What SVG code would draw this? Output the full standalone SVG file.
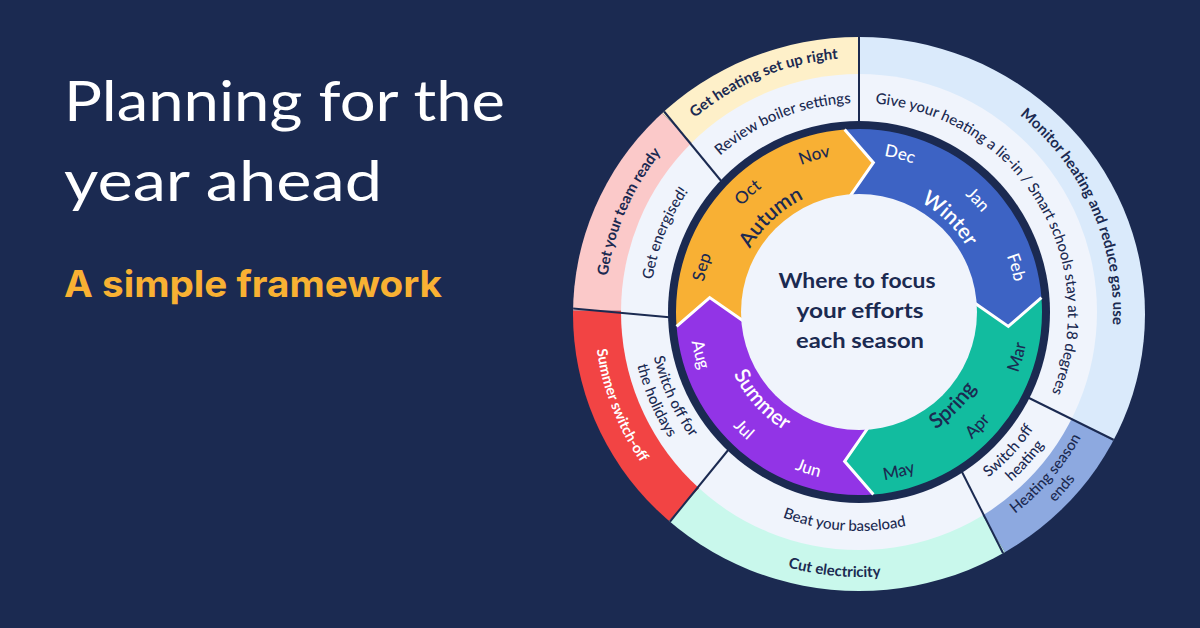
<svg xmlns="http://www.w3.org/2000/svg" xmlns:xlink="http://www.w3.org/1999/xlink" width="1200" height="628" viewBox="0 0 1200 628">
<style>
.dt{font-family:Lato,"Open Sans","DejaVu Sans",sans-serif}
.navy{fill:#1B2A51}
.wh{fill:#ffffff}
.sn{font-size:21px;font-weight:600}
.mo{font-size:17px;font-weight:500}
.mid{font-size:15px;font-weight:500;fill:#1B2A51}
.out{font-size:15px;font-weight:700;fill:#1B2A51}
.div{stroke:#1B2A51;stroke-width:2;fill:none}
.chev{stroke:#ffffff;stroke-width:3;fill:none;stroke-linejoin:miter}
</style>
<defs>
<clipPath id="outerClip"><ellipse cx="859" cy="314" rx="286" ry="277"/></clipPath>
<path id="cw126" d="M859,438 A126 126 0 1 1 859,186 A126 126 0 1 1 859,438"/>
<path id="cw158" d="M859,470 A158 158 0 1 1 859,154 A158 158 0 1 1 859,470"/>
<path id="cw209" d="M859,521 A209 209 0 1 1 859,103 A209 209 0 1 1 859,521"/>
<path id="cw254" d="M859,566 A254 254 0 1 1 859,58 A254 254 0 1 1 859,566"/>
<path id="cc140" d="M859,172 A140 140 0 1 0 859,452 A140 140 0 1 0 859,172"/>
<path id="cc170" d="M859,142 A170 170 0 1 0 859,482 A170 170 0 1 0 859,142"/>
<path id="cc210" d="M859,102 A210 210 0 1 0 859,522 A210 210 0 1 0 859,102"/>
<path id="cc219" d="M859,93 A219 219 0 1 0 859,531 A219 219 0 1 0 859,93"/>
<path id="cc228" d="M859,84 A228 228 0 1 0 859,540 A228 228 0 1 0 859,84"/>
<path id="cc255" d="M859,57 A255 255 0 1 0 859,567 A255 255 0 1 0 859,57"/>
<path id="cc265" d="M859,47 A265 265 0 1 0 859,577 A265 265 0 1 0 859,47"/>
<path id="cc273" d="M859,39 A273 273 0 1 0 859,585 A273 273 0 1 0 859,39"/>
</defs>
<rect x="0" y="0" width="1200" height="628" fill="#1B2A51"/>

<g id="title">
<text class="dt" x="64" y="121" font-size="56" font-weight="400" fill="#ffffff" textLength="441" lengthAdjust="spacingAndGlyphs">Planning for the</text>
<text class="dt" x="64" y="201" font-size="56" font-weight="400" fill="#ffffff" textLength="318" lengthAdjust="spacingAndGlyphs">year ahead</text>
</g>
<g id="subtitle">
<text x="64" y="297" font-family="Inter,Roboto,sans-serif" font-size="37" font-weight="700" fill="#F8B133" textLength="378" lengthAdjust="spacingAndGlyphs">A simple framework</text>
</g>

<g id="outer-bands" clip-path="url(#outerClip)">
<path id="band-monitor" d="M859,312 L859,-18 A330 330 0 0 1 1153.55,460.79 Z" fill="#DAEAFB"/>
<path id="band-heating-ends" d="M859,312 L1153.55,460.79 A330 330 0 0 1 1030.44,593.97 Z" fill="#8DA9E0"/>
<path id="band-cut" d="M859,312 L1030.44,593.97 A330 330 0 0 1 636.91,556.08 Z" fill="#C9F8EC"/>
<path id="band-summer" d="M859,312 L636.91,556.08 A330 330 0 0 1 529,310.27 Z" fill="#F24444"/>
<path id="band-team" d="M859,312 L529,310.27 A330 330 0 0 1 626.89,77.43 Z" fill="#FBC9C9"/>
<path id="band-heating-setup" d="M859,312 L626.89,77.43 A330 330 0 0 1 859,-18 Z" fill="#FEF0C9"/>
</g>
<circle id="middle-band" cx="859" cy="312" r="238" fill="#F0F4FC"/>

<g id="connectors" clip-path="url(#outerClip)">
<line class="div" x1="859" y1="30" x2="859" y2="125"/>
<line class="div" x1="662" y1="109" x2="722" y2="182"/>
<line class="div" x1="568" y1="308" x2="672" y2="317.5"/>
<line class="div" x1="668" y1="524" x2="729" y2="449"/>
<line class="div" x1="1004" y1="555" x2="961" y2="470"/>
<line class="div" x1="1116" y1="441" x2="1027" y2="397"/>
</g>

<circle id="dark-ring" cx="859" cy="312" r="191" fill="#1B2A51"/>

<g id="season-winter">
<path d="M844.64,129.56 A183 183 0 0 1 1041.44,297.64 L1008.31,326.38 L974.64,302.9 A116 116 0 0 0 849.9,196.36 L873.38,162.69 Z" fill="#3D63C4"/>
</g>
<g id="season-spring">
<path d="M1041.44,297.64 A183 183 0 0 1 873.36,494.44 L844.62,461.31 L868.1,427.64 A116 116 0 0 0 974.64,302.9 L1008.31,326.38 Z" fill="#12BC9F"/>
</g>
<g id="season-summer">
<path d="M873.36,494.44 A183 183 0 0 1 676.56,326.36 L709.69,297.62 L743.36,321.1 A116 116 0 0 0 868.1,427.64 L844.62,461.31 Z" fill="#9234E6"/>
</g>
<g id="season-autumn">
<path d="M676.56,326.36 A183 183 0 0 1 844.64,129.56 L873.38,162.69 L849.9,196.36 A116 116 0 0 0 743.36,321.1 L709.69,297.62 Z" fill="#F8B034"/>
</g>
<g id="season-edges">
<polyline class="chev" points="844.64,129.56 873.38,162.69 849.9,196.36"/>
<polyline class="chev" points="1041.44,297.64 1008.31,326.38 974.64,302.9"/>
<polyline class="chev" points="873.36,494.44 844.62,461.31 868.1,427.64"/>
<polyline class="chev" points="676.56,326.36 709.69,297.62 743.36,321.1"/>
</g>

<g id="center">
<circle cx="859" cy="312" r="118" fill="#F0F4FC"/>
<text class="dt navy" x="857" y="288" font-size="21" font-weight="700" text-anchor="middle" textLength="157" lengthAdjust="spacingAndGlyphs">Where to focus</text>
<text class="dt navy" x="860" y="318" font-size="21" font-weight="700" text-anchor="middle" textLength="127" lengthAdjust="spacingAndGlyphs">your efforts</text>
<text class="dt navy" x="860" y="348" font-size="21" font-weight="700" text-anchor="middle" textLength="128" lengthAdjust="spacingAndGlyphs">each season</text>
</g>

<g id="season-labels" class="dt" text-anchor="middle">
<text class="sn navy"><textPath href="#cw126" startOffset="301.28">Autumn</textPath></text>
<text class="mo navy"><textPath href="#cw158" startOffset="292.31">Sep</textPath></text>
<text class="mo navy"><textPath href="#cw158" startOffset="377.79">Oct</textPath></text>
<text class="mo navy"><textPath href="#cw158" startOffset="452.25">Nov</textPath></text>
<text class="sn wh"><textPath href="#cw126" startOffset="492.6">Winter</textPath></text>
<text class="mo wh"><textPath href="#cw158" startOffset="536.36">Dec</textPath></text>
<text class="mo wh"><textPath href="#cw158" startOffset="624.6">Jan</textPath></text>
<text class="mo wh"><textPath href="#cw158" startOffset="700.44">Feb</textPath></text>
<text class="sn navy"><textPath href="#cc140" startOffset="549.78">Spring</textPath></text>
<text class="mo navy"><textPath href="#cc170" startOffset="753.63">Mar</textPath></text>
<text class="mo navy"><textPath href="#cc170" startOffset="670.55">Apr</textPath></text>
<text class="mo navy"><textPath href="#cc170" startOffset="575.61">May</textPath></text>
<text class="sn wh"><textPath href="#cc140" startOffset="322.54">Summer</textPath></text>
<text class="mo wh"><textPath href="#cc170" startOffset="480.66">Jun</textPath></text>
<text class="mo wh"><textPath href="#cc170" startOffset="402.04">Jul</textPath></text>
<text class="mo wh"><textPath href="#cc170" startOffset="311.54">Aug</textPath></text>
</g>

<g id="middle-labels" class="dt" text-anchor="middle">
<text class="mid"><textPath href="#cw209" startOffset="576.34">Review boiler settings</textPath></text>
<text class="mid"><textPath href="#cw209" startOffset="408.55">Get energised!</textPath></text>
<text class="mid"><textPath href="#cw209" startOffset="869.99">Give your heating a lie-in / Smart schools stay at 18 degrees</textPath></text>
<text class="mid"><textPath href="#cc210" startOffset="832">Switch off</textPath></text>
<text class="mid"><textPath href="#cc228" startOffset="907.29">heating</textPath></text>
<text class="mid"><textPath href="#cc219" startOffset="672.72">Beat your baseload</textPath></text>
<text class="mid"><textPath href="#cc210" startOffset="419.66">Switch off for</textPath></text>
<text class="mid"><textPath href="#cc228" startOffset="451.66">the holidays</textPath></text>
</g>

<g id="outer-labels" class="dt" text-anchor="middle">
<text class="out"><textPath href="#cw254" startOffset="698.22">Get heating set up right</textPath></text>
<text class="out"><textPath href="#cw254" startOffset="503.16">Get your team ready</textPath></text>
<text class="out"><textPath href="#cw254" startOffset="1090.55">Monitor heating and reduce gas use</textPath></text>
<text class="out"><textPath href="#cc265" startOffset="807.08">Cut electricity</textPath></text>
<text class="out" style="fill:#ffffff;font-size:14.5px"><textPath href="#cc265" startOffset="515">Summer switch-off</textPath></text>
<text class="mid"><textPath href="#cc255" startOffset="1019.18">Heating season</textPath></text>
<text class="mid"><textPath href="#cc273" startOffset="1091.13">ends</textPath></text>
</g>
</svg>
